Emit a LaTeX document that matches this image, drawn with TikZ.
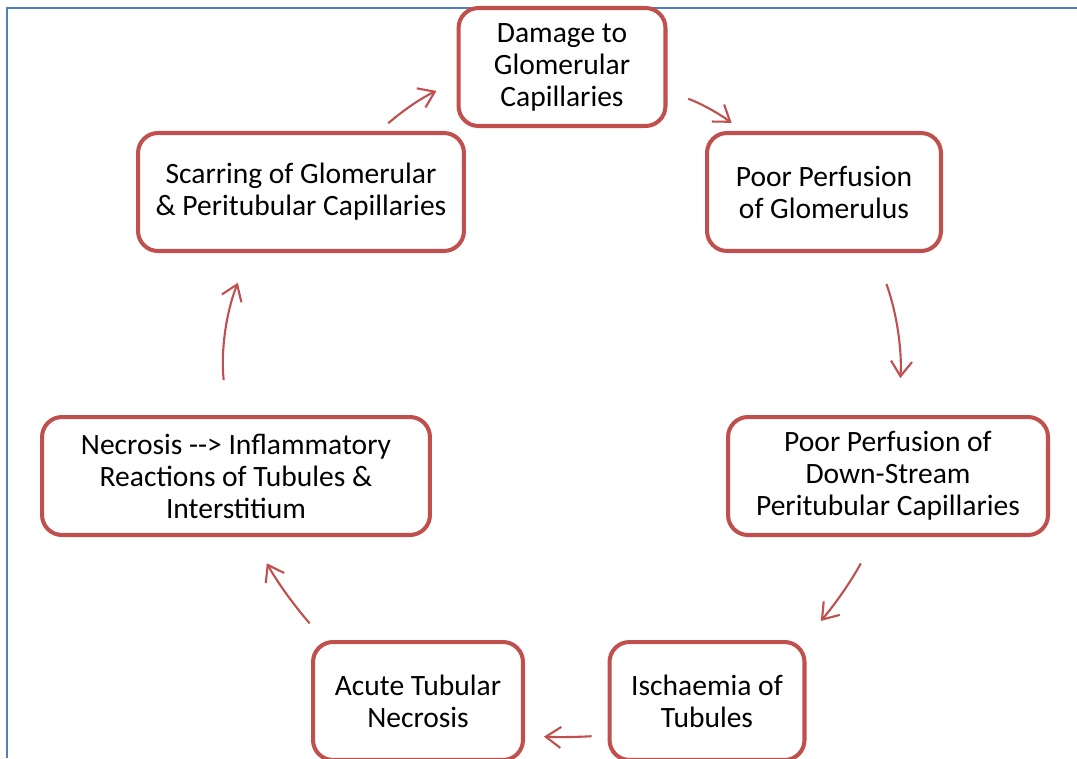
\documentclass[tikz,border=0pt]{standalone}
\usepackage{fontspec}
\setmainfont{Carlito}
\usepackage{tikz}
\usetikzlibrary{arrows.meta, positioning}
\definecolor{figred}{RGB}{192,80,77}
\definecolor{figblue}{RGB}{79,129,189}
\tikzstyle{cyclebox} = [rectangle, rounded corners=0.4cm,
fill=white, draw=figred, line width=2.3pt,
minimum height=2.36cm, inner sep=2pt,
align=center, font=\fontsize{16.8}{18.2}\selectfont]
\tikzstyle{arrow} = [-{Straight Barb[length=3mm, width=4.2mm]}, line width=1.2pt, draw=figred]

\begin{document}
\begin{tikzpicture}[x=0.02cm, y=-0.02cm]
    \useasboundingbox (0,0) rectangle (1077,758);
    \draw[figblue, line width=1.4pt] (7,758) -- (7,8) -- (1077,8);

    \node (dmg)  [cyclebox, minimum width=4.14cm] at (562,67)  {Damage to\\Glomerular\\Capillaries};
    \node (pglo) [cyclebox, minimum width=4.68cm] at (824,192) {Poor Perfusion\\of Glomerulus};
    \node (pptc) [cyclebox, minimum width=6.4cm]  at (888,476) {Poor Perfusion of\\Down-Stream\\Peritubular Capillaries};
    \node (isch) [cyclebox, minimum width=3.9cm]  at (707,701) {Ischaemia of\\Tubules};
    \node (atn)  [cyclebox, minimum width=4.2cm]  at (418,701) {Acute Tubular\\Necrosis};
    \node (necr) [cyclebox, minimum width=7.76cm] at (236,476) {Necrosis -{}-{}> Inflammatory\\Reactions of Tubules \&\\Interstitium};
    \node (scar) [cyclebox, minimum width=6.52cm] at (301,192) {Scarring of Glomerular\\\& Peritubular Capillaries};

    \draw[arrow, shorten <=0.24cm, shorten >=0.44cm] (scar.38) to[bend left=8] (dmg.-172);
    \draw[arrow, shorten <=0.44cm, shorten >=0.28cm] (dmg.-13) to[bend left=8] (pglo.143);
    \draw[arrow, shorten <=0.66cm, shorten >=0.74cm] (pglo.-50) to[bend left=12] (pptc.81);
    \draw[arrow, shorten <=0.6cm, shorten >=0.5cm] (pptc.-102) to[bend left=6] (isch.32);
    \draw[arrow, shorten <=0.32cm, shorten >=0.38cm] (isch.199) to[bend left=3] (atn.-18);
    \draw[arrow, shorten <=0.44cm, shorten >=0.6cm] (atn.147) to[bend left=6] (necr.-75);
    \draw[arrow, shorten <=0.7cm, shorten >=0.64cm] (necr.98) to[bend left=14] (scar.-130);
\end{tikzpicture}
\end{document}
